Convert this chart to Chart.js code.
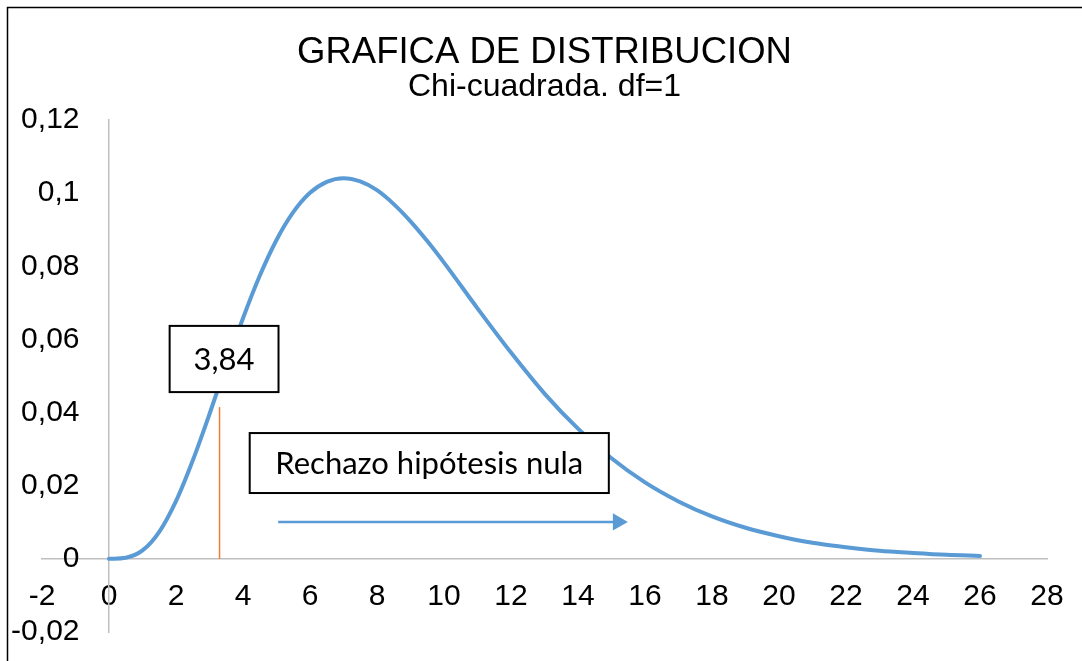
<!DOCTYPE html>
<html>
<head>
<meta charset="utf-8">
<script src="https://cdn.jsdelivr.net/npm/chart.js@4.4.1/dist/chart.umd.min.js"></script>
<style>
html,body{margin:0;padding:0;background:#fff;}
#wrap{width:1082px;height:661px;position:relative;}
</style>
</head>
<body>
<div id="wrap"><canvas id="c" width="1082" height="661"></canvas></div>
<script>
// ---- data ----
const curveX = [0,0.5,1,1.5,2,2.5,3,3.5,4,4.5,5,5.5,6,6.5,7,7.5,8,8.5,9,9.5,10,11,12,13,14,15,16,17,18,19,20,21,22,23,24,25,26];
const curveY = [0,0.0003,0.0023,0.0074,0.0158,0.0269,0.0396,0.0530,0.0658,0.0774,0.0872,0.0948,0.1001,0.1031,0.1041,0.1032,0.1008,0.0970,0.0923,0.0869,0.0810,0.0685,0.0564,0.0452,0.0356,0.0275,0.0209,0.0157,0.0116,0.0085,0.0062,0.0044,0.0032,0.0022,0.0016,0.0011,0.0008];
const criticalX = [3.3, 3.3];
const criticalY = [0, 0.0415];
const arrowX = [5.05, 15.19];
const arrowY = [0.0101, 0.0101];
const xTicks = [-2,0,2,4,6,8,10,12,14,16,18,20,22,24,26,28];
const yTicks = [-0.02,0,0.02,0.04,0.06,0.08,0.1,0.12];
const titleText = 'GRAFICA DE DISTRIBUCION';
const subtitleText = 'Chi-cuadrada. df=1';
const boxLabels = ['3,84', 'Rechazo hipótesis nula'];
const boxX0 = [1.81, 4.20];
const boxX1 = [5.06, 14.92];
const boxYTop = [0.0637, 0.0344];
const boxYBot = [0.0456, 0.0180];

const toPts = (xs, ys) => xs.map((x, i) => ({x, y: ys[i]}));

// axes crossing inside the plot must not take layout room
const noRoom = s => {
  s.paddingLeft = 0; s.paddingRight = 0; s.paddingTop = 0; s.paddingBottom = 0;
  if (s.isHorizontal()) { s.height = 0; } else { s.width = 0; }
};

const framePlugin = {
  id: 'frame',
  beforeDraw(chart) {
    const ys = chart.scales.y;
    const items = ys.getLabelItems(chart.chartArea);
    items.forEach(it => { if (!it._shifted) { it.options.translation[0] -= 29.5; it._shifted = true; } });
  },
  afterDraw(chart) {
    const ctx = chart.ctx;
    ctx.save();
    ctx.strokeStyle = '#000';
    ctx.lineWidth = 1.5;
    ctx.beginPath();
    ctx.moveTo(7.5, 700);
    ctx.lineTo(7.5, 7.5);
    ctx.lineTo(1100, 7.5);
    ctx.stroke();
    ctx.restore();
  }
};

const boxPlugin = {
  id: 'boxes',
  afterDatasetsDraw(chart) {
    const ctx = chart.ctx;
    const xs = chart.scales.x, ys = chart.scales.y;
    ctx.save();
    boxLabels.forEach((label, i) => {
      const l = xs.getPixelForValue(boxX0[i]);
      const r = xs.getPixelForValue(boxX1[i]);
      const t = ys.getPixelForValue(boxYTop[i]);
      const b = ys.getPixelForValue(boxYBot[i]);
      ctx.fillStyle = '#fff';
      ctx.fillRect(l, t, r - l, b - t);
      ctx.strokeStyle = '#000';
      ctx.lineWidth = 2;
      ctx.strokeRect(l, t, r - l, b - t);
      ctx.fillStyle = '#000';
      ctx.font = '31px Lato';
      ctx.textAlign = 'center';
      ctx.textBaseline = 'middle';
      ctx.fillText(label, (l + r) / 2, (t + b) / 2 + 1);
    });
    ctx.restore();
  }
};

const fmtY = v => String(Number(v.toFixed(2))).replace('.', ',');

new Chart(document.getElementById('c'), {
  type: 'scatter',
  data: {
    datasets: [
      {
        data: toPts(curveX, curveY),
        showLine: true,
        borderColor: '#5b9bd5',
        borderWidth: 4,
        borderCapStyle: 'round',
        cubicInterpolationMode: 'monotone',
        pointRadius: 0
      },
      {
        data: toPts(criticalX, criticalY),
        showLine: true,
        borderColor: '#ed7d31',
        borderWidth: 1.5,
        pointRadius: 0
      },
      {
        data: toPts(arrowX, arrowY),
        showLine: true,
        borderColor: '#5b9bd5',
        backgroundColor: '#5b9bd5',
        borderWidth: 2.5,
        pointStyle: 'triangle',
        rotation: 90,
        pointRadius: [0, 10],
        pointBorderWidth: 0
      }
    ]
  },
  options: {
    responsive: false,
    animation: false,
    layout: { padding: { left: 42, right: 35, top: 0, bottom: 29 } },
    plugins: {
      legend: { display: false },
      tooltip: { enabled: false },
      title: {
        display: true,
        text: titleText,
        color: '#000',
        font: { family: 'Liberation Sans', size: 36.5, weight: 'normal', lineHeight: 1.0 },
        padding: { top: 35, bottom: 0 }
      },
      subtitle: {
        display: true,
        text: subtitleText,
        color: '#000',
        font: { family: 'Liberation Sans', size: 32, weight: 'normal', lineHeight: 1.0 },
        padding: { top: 0, bottom: 16.5 }
      }
    },
    scales: {
      x: {
        type: 'linear',
        min: -2, max: 28,
        position: { y: 0 },
        afterBuildTicks: s => { s.ticks = xTicks.map(v => ({ value: v })); },
        afterFit: noRoom,
        grid: { display: false, drawTicks: false },
        border: { display: true, color: '#bfbfbf', width: 1.5 },
        ticks: { color: '#000', font: { family: 'Liberation Sans', size: 30 }, padding: 20, maxRotation: 0, autoSkip: false }
      },
      y: {
        type: 'linear',
        min: -0.02, max: 0.12,
        position: { x: 0 },
        afterBuildTicks: s => { s.ticks = yTicks.map(v => ({ value: v })); },
        afterFit: noRoom,
        grid: { display: false, drawTicks: false },
        border: { display: true, color: '#bfbfbf', width: 1.5 },
        ticks: { color: '#000', font: { family: 'Liberation Sans', size: 30 }, padding: 0, autoSkip: false, callback: v => fmtY(v) }
      }
    }
  },
  plugins: [framePlugin, boxPlugin]
});
</script>
</body>
</html>
